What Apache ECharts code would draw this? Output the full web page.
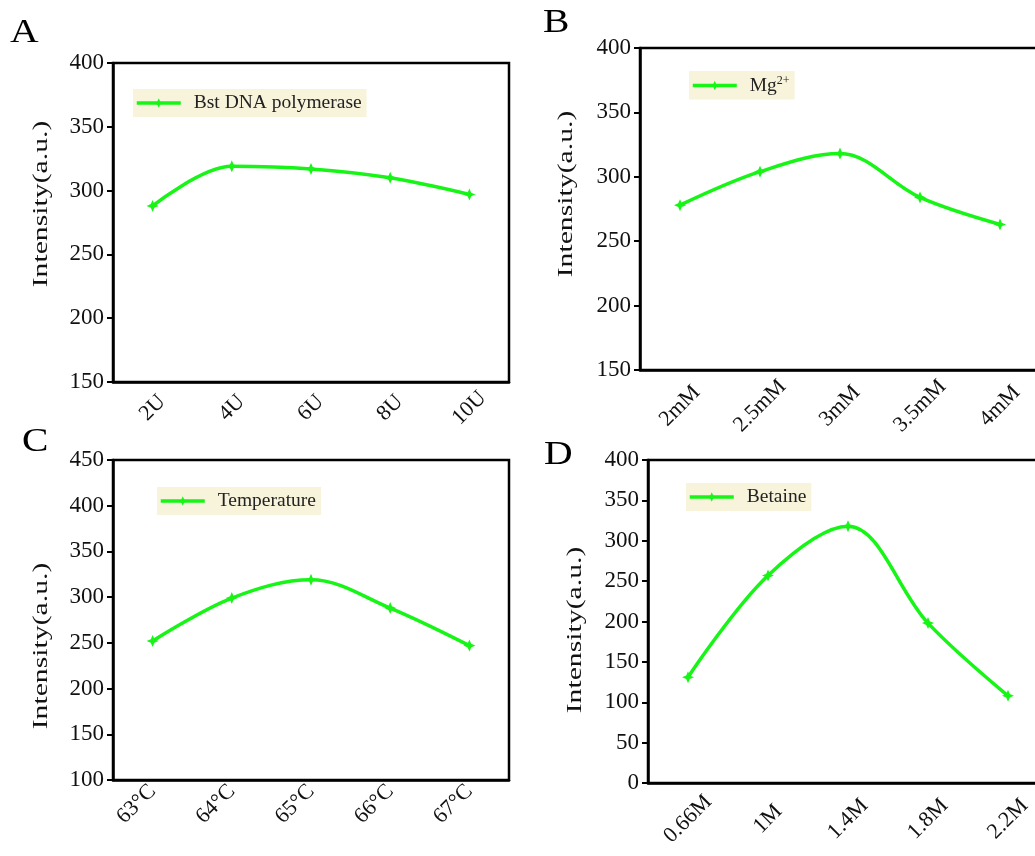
<!DOCTYPE html>
<html>
<head>
<meta charset="utf-8">
<script src="https://cdn.jsdelivr.net/npm/echarts@6/dist/echarts.min.js"></script>
<style>
  body { margin: 0; background: #fff; }
  #main { width: 1035px; height: 856px; }
</style>
</head>
<body>
<div id="main"></div>
<script>
// 各面板数据
var catsA = ["2U", "4U", "6U", "8U", "10U"];
var valsA = [288, 319, 317, 310, 297];
var catsB = ["2mM", "2.5mM", "3mM", "3.5mM", "4mM"];
var valsB = [278, 304, 318, 284, 263];
var catsC = ["63°C", "64°C", "65°C", "66°C", "67°C"];
var valsC = [252, 299, 319, 288, 247];
var catsD = ["0.66M", "1M", "1.4M", "1.8M", "2.2M"];
var valsD = [131, 257, 318, 198, 108];

var names = ["Bst DNA polymerase", "Mg2+", "Temperature", "Betaine"];
var yMin = [150, 150, 100, 0];
var yMax = [400, 400, 450, 400];

var serif = '"Liberation Serif", "Times New Roman", serif';
var green = "#16f516";
var star = "path://M0,-10 L3,-3 L10,0 L3,3 L0,10 L-3,3 L-10,0 L-3,-3 Z";

var grids = [
  { left: 113, top: 63, width: 396, height: 319 },
  { left: 640, top: 48, width: 400, height: 322 },
  { left: 113, top: 460, width: 396, height: 320 },
  { left: 648, top: 460, width: 400, height: 323 }
];
var cats = [catsA, catsB, catsC, catsD];
var vals = [valsA, valsB, valsC, valsD];
// x轴标签: 居中旋转 or 右对齐
var labAlign = ["center", "center", "right", "center"];
var labMargin = [26, 36, 8, 36];

var xAxis = [], yAxis = [], series = [], legend = [];
var legendPos = [
  { left: 133, top: 89 },
  { left: 689, top: 71 },
  { left: 157, top: 487 },
  { left: 686, top: 483 }
];

for (var i = 0; i < 4; i++) {
  grids[i].show = true;
  grids[i].borderColor = "#000";
  grids[i].borderWidth = 2.5;
  grids[i].backgroundColor = "#fff";
  grids[i].outerBoundsMode = "none";
  grids[i].containLabel = false;

  xAxis.push({
    type: "category",
    gridIndex: i,
    data: cats[i],
    boundaryGap: true,
    axisLine: { lineStyle: { color: "#000", width: 2.5 } },
    axisTick: { alignWithLabel: true, length: 6, lineStyle: { color: "#000", width: 2 } },
    axisLabel: {
      rotate: 45,
      align: labAlign[i],
      verticalAlign: "middle",
      fontFamily: serif,
      fontSize: 22,
      color: "#111",
      margin: labMargin[i]
    },
    splitLine: { show: false }
  });
  yAxis.push({
    type: "value",
    gridIndex: i,
    min: yMin[i],
    max: yMax[i],
    interval: 50,
    axisLine: { show: true, lineStyle: { color: "#000", width: 2.5 } },
    axisTick: { show: true, length: 6, lineStyle: { color: "#000", width: 2 } },
    axisLabel: { fontFamily: serif, fontSize: 23, color: "#111", margin: 9 },
    splitLine: { show: false }
  });
  series.push({
    type: "line",
    name: names[i],
    xAxisIndex: i,
    yAxisIndex: i,
    data: vals[i],
    smooth: 0.35,
    symbol: star,
    symbolSize: 12,
    lineStyle: { color: green, width: 3.5 },
    itemStyle: { color: green },
    z: 3
  });
  legend.push({
    data: [names[i]],
    left: legendPos[i].left,
    top: legendPos[i].top,
    orient: "horizontal",
    backgroundColor: "#f8f4dc",
    padding: [4, 5, 4, 2],
    itemWidth: 44,
    itemHeight: 12,
    selectedMode: false,
    lineStyle: { width: 3.5, color: green },
    formatter: function (n) {
      if (n === "Mg2+") return "Mg{sup|2+}";
      return n;
    },
    textStyle: {
      fontFamily: serif,
      fontSize: 19.5,
      color: "#222",
      padding: [0, 0, 0, 8],
      rich: {
        sup: { fontFamily: serif, fontSize: 12, verticalAlign: "top", padding: [0, 0, 9, 0], color: "#222" }
      }
    }
  });
}

// 面板字母 & 纵轴标题
var letters = [
  { t: "A", x: 10, y: 33 },
  { t: "B", x: 543, y: 23 },
  { t: "C", x: 22, y: 442 },
  { t: "D", x: 544, y: 455 }
];
var yNames = [
  { x: 41, y: 204 },
  { x: 566, y: 194 },
  { x: 41, y: 646 },
  { x: 575, y: 630 }
];
var graphic = [];
letters.forEach(function (l) {
  graphic.push({
    type: "text",
    x: l.x,
    y: l.y,
    scaleX: 1.2,
    style: { text: l.t, font: "33px " + serif, fill: "#000", textVerticalAlign: "middle" }
  });
});
yNames.forEach(function (p) {
  graphic.push({
    type: "text",
    x: p.x,
    y: p.y,
    rotation: Math.PI / 2,
    scaleX: 1.35,
    style: {
      text: "Intensity(a.u.)",
      font: "22px " + serif,
      fill: "#111",
      textAlign: "center",
      textVerticalAlign: "middle"
    }
  });
});

var myChart = echarts.init(document.getElementById("main"));
myChart.setOption({
  backgroundColor: "#fff",
  animation: false,
  grid: grids,
  xAxis: xAxis,
  yAxis: yAxis,
  legend: legend,
  series: series,
  graphic: graphic
});
</script>
</body>
</html>
